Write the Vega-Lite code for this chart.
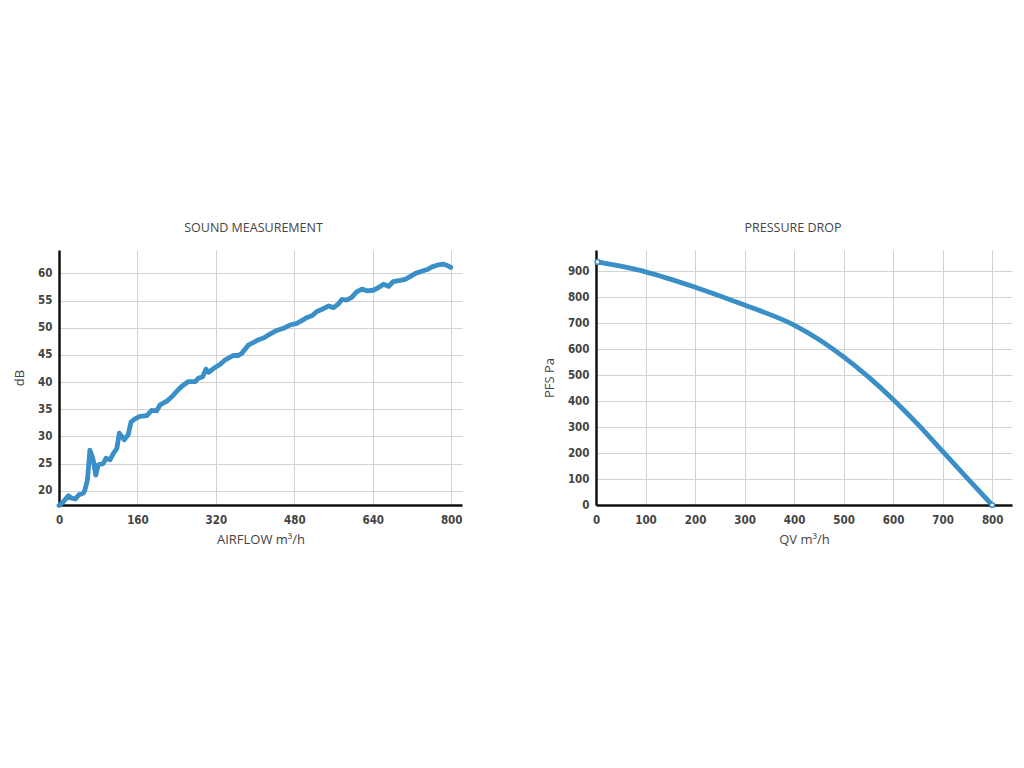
{
  "$schema": "https://vega.github.io/schema/vega-lite/v6.json",
  "background": "white",
  "padding": {"left": 13, "top": 221, "right": 5, "bottom": 5},
  "spacing": 80,
  "datasets": {
    "sound": [
      {"airflow": 0, "db": 17.3}, {"airflow": 9, "db": 18.0}, {"airflow": 19, "db": 19.1},
      {"airflow": 26, "db": 18.65}, {"airflow": 33, "db": 18.5}, {"airflow": 41, "db": 19.3},
      {"airflow": 50, "db": 19.6}, {"airflow": 53, "db": 20.2}, {"airflow": 58, "db": 22.0},
      {"airflow": 63, "db": 27.5}, {"airflow": 69, "db": 26.0}, {"airflow": 75, "db": 22.9},
      {"airflow": 80, "db": 24.8}, {"airflow": 90, "db": 25.0}, {"airflow": 96, "db": 26.0},
      {"airflow": 104, "db": 25.7}, {"airflow": 111, "db": 26.9}, {"airflow": 118, "db": 27.8},
      {"airflow": 123, "db": 30.6}, {"airflow": 133, "db": 29.4}, {"airflow": 141, "db": 30.3},
      {"airflow": 147, "db": 32.7}, {"airflow": 154, "db": 33.2}, {"airflow": 165, "db": 33.7},
      {"airflow": 179, "db": 33.85}, {"airflow": 189, "db": 34.8}, {"airflow": 199, "db": 34.7},
      {"airflow": 206, "db": 35.8}, {"airflow": 220, "db": 36.5}, {"airflow": 230, "db": 37.3},
      {"airflow": 240, "db": 38.3}, {"airflow": 250, "db": 39.2}, {"airflow": 264, "db": 40.1},
      {"airflow": 278, "db": 40.1}, {"airflow": 284, "db": 40.7}, {"airflow": 293, "db": 41.0},
      {"airflow": 300, "db": 42.4}, {"airflow": 305, "db": 41.8}, {"airflow": 315, "db": 42.5},
      {"airflow": 329, "db": 43.3}, {"airflow": 339, "db": 44.1}, {"airflow": 356, "db": 44.9},
      {"airflow": 366, "db": 44.9}, {"airflow": 373, "db": 45.3}, {"airflow": 386, "db": 46.8},
      {"airflow": 397, "db": 47.3}, {"airflow": 407, "db": 47.8}, {"airflow": 417, "db": 48.1},
      {"airflow": 424, "db": 48.5}, {"airflow": 434, "db": 49.0}, {"airflow": 444, "db": 49.5},
      {"airflow": 458, "db": 49.9}, {"airflow": 471, "db": 50.5}, {"airflow": 485, "db": 50.8},
      {"airflow": 495, "db": 51.3}, {"airflow": 506, "db": 51.9}, {"airflow": 516, "db": 52.2},
      {"airflow": 526, "db": 53.0}, {"airflow": 539, "db": 53.5}, {"airflow": 550, "db": 54.0},
      {"airflow": 560, "db": 53.7}, {"airflow": 570, "db": 54.4}, {"airflow": 577, "db": 55.2},
      {"airflow": 587, "db": 55.1}, {"airflow": 597, "db": 55.6}, {"airflow": 607, "db": 56.6},
      {"airflow": 618, "db": 57.1}, {"airflow": 628, "db": 56.8}, {"airflow": 641, "db": 56.9},
      {"airflow": 652, "db": 57.4}, {"airflow": 662, "db": 58.0}, {"airflow": 672, "db": 57.6},
      {"airflow": 682, "db": 58.5}, {"airflow": 696, "db": 58.7}, {"airflow": 706, "db": 58.9},
      {"airflow": 716, "db": 59.4}, {"airflow": 727, "db": 60.0}, {"airflow": 740, "db": 60.4},
      {"airflow": 751, "db": 60.7}, {"airflow": 761, "db": 61.2}, {"airflow": 771, "db": 61.5},
      {"airflow": 783, "db": 61.7}, {"airflow": 791, "db": 61.5}, {"airflow": 799, "db": 61.1}
    ],
    "pressure": [
      {"qv": 3, "pfs": 935}, {"qv": 100, "pfs": 897}, {"qv": 200, "pfs": 838},
      {"qv": 300, "pfs": 769}, {"qv": 400, "pfs": 692}, {"qv": 450, "pfs": 637},
      {"qv": 500, "pfs": 570}, {"qv": 550, "pfs": 493}, {"qv": 600, "pfs": 406},
      {"qv": 650, "pfs": 310}, {"qv": 700, "pfs": 206}, {"qv": 750, "pfs": 102},
      {"qv": 800, "pfs": 0}
    ]
  },
  "hconcat": [
    {
      "title": {"text": "SOUND MEASUREMENT", "dx": -7},
      "width": 403,
      "height": 255,
      "data": {"name": "sound"},
      "mark": {"type": "line", "color": "#3a8fc7", "strokeWidth": 4.8, "strokeJoin": "round", "strokeCap": "round"},
      "encoding": {
        "x": {
          "field": "airflow",
          "type": "quantitative",
          "title": "AIRFLOW m³/h",
          "scale": {"domain": [0, 822], "nice": false, "zero": false},
          "axis": {"values": [0, 160, 320, 480, 640, 800]}
        },
        "y": {
          "field": "db",
          "type": "quantitative",
          "title": "dB",
          "scale": {"domain": [17.4, 64.3], "nice": false, "zero": false},
          "axis": {"values": [20, 25, 30, 35, 40, 45, 50, 55, 60]}
        }
      }
    },
    {
      "title": {"text": "PRESSURE DROP", "dx": -11},
      "width": 416,
      "height": 255,
      "data": {"name": "pressure"},
      "encoding": {
        "x": {
          "field": "qv",
          "type": "quantitative",
          "title": "QV m³/h",
          "scale": {"domain": [0, 840], "nice": false},
          "axis": {"values": [0, 100, 200, 300, 400, 500, 600, 700, 800]}
        },
        "y": {
          "field": "pfs",
          "type": "quantitative",
          "title": "PFS Pa",
          "scale": {"domain": [0, 981], "nice": false},
          "axis": {"values": [0, 100, 200, 300, 400, 500, 600, 700, 800, 900]}
        }
      },
      "layer": [
        {"mark": {"type": "line", "color": "#3a8fc7", "strokeWidth": 4.8, "interpolate": "monotone", "strokeCap": "round"}},
        {
          "transform": [{"filter": "datum.qv == 3 || datum.qv == 800"}],
          "mark": {"type": "point", "filled": true, "fill": "white", "stroke": "#3a8fc7", "strokeWidth": 1.5, "size": 22, "opacity": 1}
        }
      ]
    }
  ],
  "config": {
    "view": {"stroke": null},
    "title": {"font": "Open Sans", "fontSize": 12.5, "fontWeight": "normal", "color": "#444444", "offset": 16},
    "axis": {
      "domainColor": "#111111",
      "domainWidth": 2.5,
      "ticks": false,
      "labelFlush": false,
      "gridColor": "#d2d2d2",
      "gridWidth": 1,
      "labelFont": "DejaVu Sans Condensed, DejaVu Sans, sans-serif",
      "labelFontSize": 11.5,
      "labelFontWeight": "bold",
      "labelColor": "#444444",
      "titleFont": "Open Sans",
      "titleFontSize": 13,
      "titleFontWeight": "normal",
      "titleColor": "#444444"
    },
    "axisX": {"labelPadding": 9, "titlePadding": 8},
    "axisY": {"labelPadding": 7, "titlePadding": 11}
  }
}
